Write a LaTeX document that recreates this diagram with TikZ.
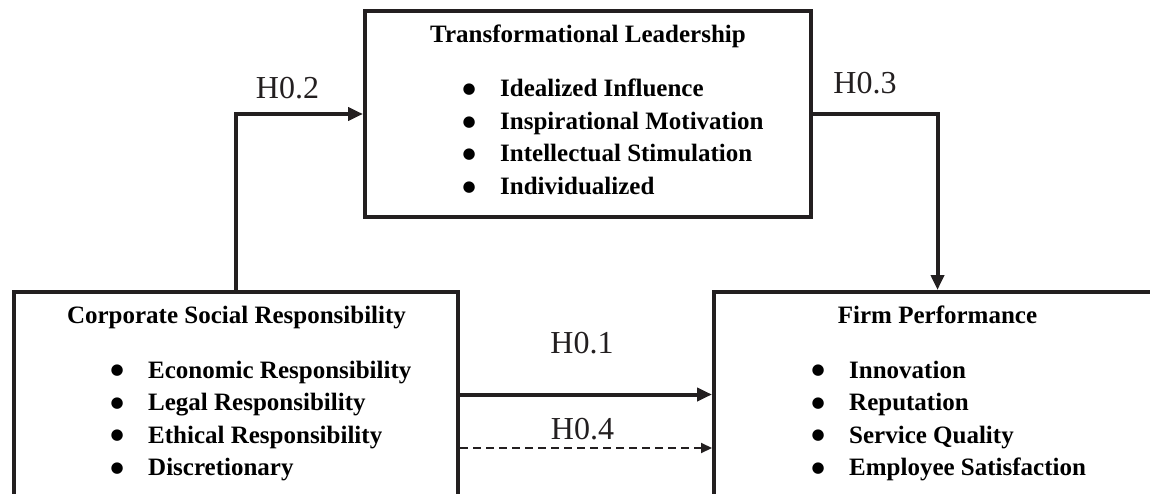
\documentclass[tikz,border=0pt]{standalone}
\usepackage{fontspec}
\setmainfont{Liberation Serif}
\newfontfamily\dejavu{DejaVu Sans}
\usetikzlibrary{arrows.meta}
\definecolor{ink}{HTML}{231F20}
\newcommand{\bitem}[1]{\makebox[40pt][l]{\hspace*{2.5pt}\raisebox{3.2pt}{\dejavu\fontsize{15}{15}\selectfont ●}}#1}
\begin{document}
\begin{tikzpicture}[x=1pt,y=-1pt,
  box/.style={draw=ink, line width=4pt, inner sep=0pt, rectangle},
  head/.style={font=\fontsize{25}{30}\selectfont\bfseries, inner sep=0pt, anchor=base},
  item/.style={font=\fontsize{25}{30}\selectfont\bfseries, inner sep=0pt, anchor=base west},
  hyp/.style={font=\fontsize{32}{36}\selectfont, inner sep=0pt, text=ink},
  conn/.style={draw=ink, line width=4pt, -{Triangle[length=15pt,width=13pt]}},
  dconn/.style={draw=ink, line width=2pt, dash pattern=on 8pt off 5pt, -{Triangle[length=11pt,width=10pt]}}]
\path[use as bounding box] (0,0) rectangle (1150,494);

% boxes
\node[box, minimum width=445.5pt, minimum height=206pt] (tl) at (587.75,114) {};
\node[box, minimum width=444pt, minimum height=248pt] (csr) at (236,416) {};
\node[box, minimum width=447pt, minimum height=248pt] (fp) at (937.5,416) {};

% Transformational Leadership
\node[head] (tlh) at (588,43) {Transformational Leadership};
\node[item] (tli1) at (460,97) {\bitem{Idealized Influence}};
\node[item] (tli2) at (460,129.5) {\bitem{Inspirational Motivation}};
\node[item] (tli3) at (460,162) {\bitem{Intellectual Stimulation}};
\node[item] (tli4) at (460,194.5) {\bitem{Individualized}};

% Corporate Social Responsibility
\node[head] (csrh) at (236.5,323) {Corporate Social Responsibility};
\node[item] (csri1) at (108,378) {\bitem{Economic Responsibility}};
\node[item] (csri2) at (108,410.5) {\bitem{Legal Responsibility}};
\node[item] (csri3) at (108,443) {\bitem{Ethical Responsibility}};
\node[item] (csri4) at (108,475.5) {\bitem{Discretionary}};

% Firm Performance
\node[head] (fph) at (937.5,323) {Firm Performance};
\node[item] (fpi1) at (809,378) {\bitem{Innovation}};
\node[item] (fpi2) at (809,410.5) {\bitem{Reputation}};
\node[item] (fpi3) at (809,443) {\bitem{Service Quality}};
\node[item] (fpi4) at (809,475.5) {\bitem{Employee Satisfaction}};

% connectors
\coordinate (y1) at (0,394.5);
\coordinate (y4) at (0,448);
\draw[conn] (csr.north) |- (tl.west);
\draw[conn] (tl.east) -| (fp.north);
\draw[conn] (csr.east |- y1) -- (fp.west |- y1);
\draw[dconn] (csr.east |- y4) -- (fp.west |- y4);

% labels
\node[hyp] (h2) at (287.5,88) {H0.2};
\node[hyp] (h3) at (865,83) {H0.3};
\node[hyp] (h1) at (582,343) {H0.1};
\node[hyp] (h4) at (582.5,429) {H0.4};
\end{tikzpicture}
\end{document}
